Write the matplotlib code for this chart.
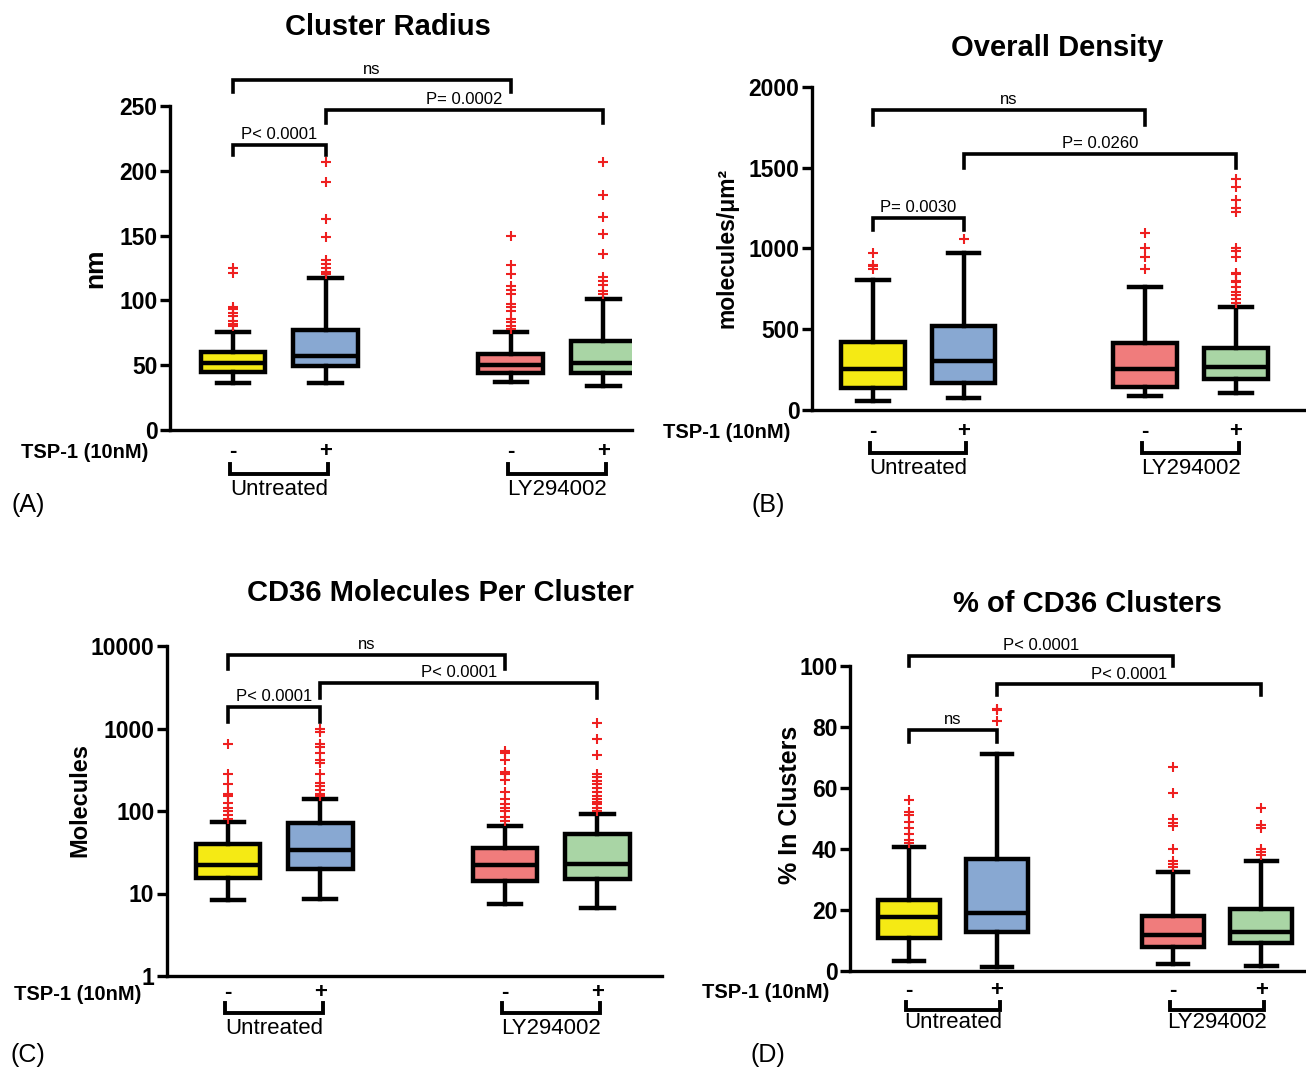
import matplotlib
matplotlib.use('Agg')
import matplotlib.pyplot as plt

plt.rcParams['font.family'] = ['Liberation Sans', 'DejaVu Sans']

W, H = 1306, 1070
fig = plt.figure(figsize=(W / 100, H / 100), dpi=100)

groups = ['Untreated', 'LY294002']
tsp = ['-', '+', '-', '+']
colors = ['#f5ea14', '#88a8d2', '#f07c7c', '#a9d5a5']
positions = [1, 2, 4, 5]

# (A) cluster radius, nm
rad_lo = [36, 36, 37, 34]
rad_q1 = [45, 49, 44, 44]
rad_med = [52, 57, 50, 52]
rad_q3 = [60, 77, 59, 69]
rad_hi = [76, 117, 76, 101]
rad_fliers = [[80, 82, 84, 88, 90, 93, 95, 121, 125],
              [120, 122, 125, 128, 131, 149, 163, 191, 207],
              [78, 80, 83, 86, 92, 95, 97, 105, 108, 111, 120, 127, 150],
              [105, 107, 112, 115, 118, 136, 151, 164, 181, 207]]

# (B) overall density, molecules/um2
den_lo = [56, 74, 87, 105]
den_q1 = [136, 167, 142, 192]
den_med = [254, 303, 254, 266]
den_q3 = [421, 520, 415, 385]
den_hi = [805, 972, 762, 638]
den_fliers = [[875, 890, 900, 975],
              [1060],
              [870, 945, 1005, 1095],
              [665, 690, 710, 730, 760, 790, 800, 840, 850, 945, 985, 1000,
               1225, 1250, 1300, 1380, 1430]]

# (C) CD36 molecules per cluster
mol_lo = [8.3, 8.5, 7.4, 6.7]
mol_q1 = [15.3, 20, 14.2, 14.9]
mol_med = [22, 34, 22, 23]
mol_q3 = [40, 71, 36, 53]
mol_hi = [73, 140, 66, 92]
mol_fliers = [[80, 90, 100, 110, 125, 150, 160, 210, 280, 640],
              [150, 160, 180, 200, 220, 280, 380, 420, 500, 600, 650, 900, 1000],
              [75, 85, 100, 110, 120, 140, 170, 240, 280, 300, 420, 500, 540],
              [100, 110, 120, 130, 140, 150, 170, 190, 210, 230, 260, 280, 480, 750, 1150]]

# (D) % of CD36 in clusters
pct_lo = [3.3, 1.4, 2.2, 1.7]
pct_q1 = [10.7, 12.9, 8.0, 9.1]
pct_med = [17.6, 18.9, 11.8, 12.9]
pct_q3 = [23.3, 36.6, 18.1, 20.3]
pct_hi = [40.8, 71.1, 32.6, 36.1]
pct_fliers = [[42, 43, 45, 47, 49, 51, 52, 56],
              [82, 85.5, 86],
              [34, 35, 36, 40, 47.5, 48.5, 50, 58.5, 67],
              [38, 39, 40, 47, 48, 53.5]]


def px(x, y):
    return x / W, 1 - y / H


def add_panel(rect, xlim, ylim, yticks, lo, q1, med, q3, hi, fliers, brackets,
              title, title_xy, ylabel, ylabel_xy, ylabel_size, tsp_xy,
              under, letter, letter_xy, log=False):
    left, top, right, bottom = rect
    ax = fig.add_axes([left / W, 1 - bottom / H, (right - left) / W, (bottom - top) / H])
    stats = [dict(med=med[i], q1=q1[i], q3=q3[i], whislo=lo[i], whishi=hi[i],
                  fliers=fliers[i]) for i in range(4)]
    bp = ax.bxp(stats, positions=positions, widths=0.7, patch_artist=True,
                boxprops=dict(linewidth=3.2, edgecolor='k'),
                medianprops=dict(color='k', linewidth=3.2),
                whiskerprops=dict(color='k', linewidth=3.2),
                capprops=dict(color='k', linewidth=3.2),
                flierprops=dict(marker='+', markeredgecolor='#ee2020',
                                markersize=6.5, markeredgewidth=1.5))
    for patch, c in zip(bp['boxes'], colors):
        patch.set_facecolor(c)
    if log:
        ax.set_yscale('log')
        ax.minorticks_off()
    ax.set_xlim(xlim)
    ax.set_ylim(ylim)
    ax.set_yticks(yticks)
    ax.set_yticklabels([str(t) for t in yticks], fontsize=16.5, fontweight='bold')
    ax.set_xticks([])
    for s in ['top', 'right']:
        ax.spines[s].set_visible(False)
    for s in ['left', 'bottom']:
        ax.spines[s].set_linewidth(2.4)
    ax.tick_params(axis='y', length=7, width=2.4, pad=2)

    # significance brackets
    for x1, x2, yl, ye, lab in brackets:
        ax.plot([x1, x1, x2, x2], [ye, yl, yl, ye], color='k', lw=2.6,
                clip_on=False, solid_joinstyle='miter')
        ax.annotate(lab, ((x1 + x2) / 2, yl), xytext=(0, 2), textcoords='offset points',
                    ha='center', va='bottom', fontsize=12, annotation_clip=False)

    # treatment rows under the axis
    tr = ax.get_xaxis_transform()
    fy = lambda y: (bottom - y) / (bottom - top)
    pm_y, br_top, br_bot, name_y = under
    for p, s in zip(positions, tsp):
        ax.text(p, fy(pm_y), s, transform=tr, ha='center', va='center',
                fontsize=16, fontweight='bold')
    for (a, b), g in zip([(1, 2), (4, 5)], groups):
        ax.plot([a - 0.03, a - 0.03, b + 0.03, b + 0.03],
                [fy(br_top), fy(br_bot), fy(br_bot), fy(br_top)],
                transform=tr, color='k', lw=2.8, clip_on=False, solid_joinstyle='miter')
        ax.text((a + b) / 2, fy(name_y), g, transform=tr, ha='center', va='center',
                fontsize=16)

    fig.text(*px(*tsp_xy), 'TSP-1 (10nM)', ha='center', va='center',
             fontsize=14.5, fontweight='bold')
    fig.text(*px(*title_xy), title, ha='center', va='center', fontsize=21, fontweight='bold')
    fig.text(*px(*ylabel_xy), ylabel, ha='center', va='center', rotation=90,
             fontsize=ylabel_size, fontweight='bold')
    fig.text(*px(*letter_xy), letter, ha='center', va='center', fontsize=18)
    return ax


add_panel((170, 106, 632, 430), (0.32, 5.31), (0, 250), [0, 50, 100, 150, 200, 250],
          rad_lo, rad_q1, rad_med, rad_q3, rad_hi, rad_fliers,
          [(1, 4, 270, 261, 'ns'), (2, 5, 247, 237, 'P= 0.0002'),
           (1, 2, 220, 212, 'P< 0.0001')],
          'Cluster Radius', (388, 27), 'nm', (95, 268), 19, (85, 452),
          (452, 464, 474, 490), '(A)', (28, 505))

add_panel((812, 87, 1304, 410), (0.33, 5.75), (0, 2000), [0, 500, 1000, 1500, 2000],
          den_lo, den_q1, den_med, den_q3, den_hi, den_fliers,
          [(1, 4, 1858, 1765, 'ns'), (2, 5, 1585, 1498, 'P= 0.0260'),
           (1, 2, 1189, 1115, 'P= 0.0030')],
          'Overall Density', (1057, 48), 'molecules/μm²', (727, 248), 16.5, (727, 433),
          (432, 443, 453, 469), '(B)', (768, 505))

add_panel((167, 646, 662, 976), (0.34, 5.7), (1, 10000), [1, 10, 100, 1000, 10000],
          mol_lo, mol_q1, mol_med, mol_q3, mol_hi, mol_fliers,
          [(1, 4, 7800, 5300, 'ns'), (2, 5, 3560, 2340, 'P< 0.0001'),
           (1, 2, 1820, 1200, 'P< 0.0001')],
          'CD36 Molecules Per Cluster', (440, 593), 'Molecules', (80, 800), 17, (78, 995),
          (993, 1003, 1013, 1028), '(C)', (28, 1055), log=True)

add_panel((850, 666, 1306, 971), (0.33, 5.51), (0, 100), [0, 20, 40, 60, 80, 100],
          pct_lo, pct_q1, pct_med, pct_q3, pct_hi, pct_fliers,
          [(1, 4, 103.3, 100, 'P< 0.0001'), (2, 5, 94, 90.5, 'P< 0.0001'),
           (1, 2, 79, 75, 'ns')],
          '% of CD36 Clusters', (1087, 604), '% In Clusters', (790, 805), 18, (766, 993),
          (991, 1002, 1010, 1022), '(D)', (768, 1055))

plt.savefig('out.png', dpi=100)
